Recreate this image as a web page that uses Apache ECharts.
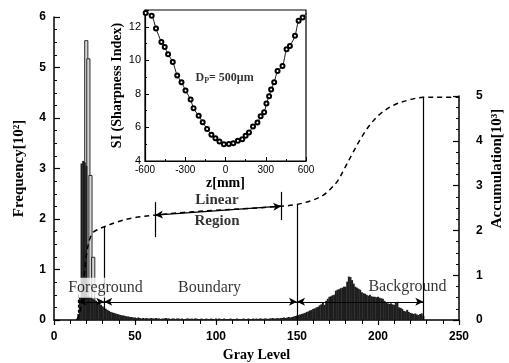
<!DOCTYPE html>
<html>
<head>
<meta charset="utf-8">
<script src="https://cdn.jsdelivr.net/npm/echarts@6/dist/echarts.min.js"></script>
<style>
html, body { margin: 0; padding: 0; background: #fff; }
#chart { width: 509px; height: 363px; }
</style>
</head>
<body>
<div id="chart"></div>
<script>
// histogram, one value per gray level starting at histStart (frequency, 10^2)
var histStart = 14
var histFreq = [
  0, 0.12, 0.45, 3.10, 3.15, 3.12, 3.05, 0.46, 0.45, 0.44,
  0.42, 0.40, 0.38, 0.35, 0.33, 0.30, 0.27, 0.25, 0.22, 0.20,
  0.18, 0.16, 0.15, 0.14, 0.13, 0.12, 0.11, 0.10, 0.09, 0.09,
  0.08, 0.07, 0.07, 0.06, 0.06, 0.05, 0.05, 0.04, 0.05, 0.04,
  0.03, 0.04, 0.03, 0.04, 0.03, 0.03, 0.04, 0.03, 0.03, 0.04,
  0.03, 0.03, 0.02, 0.03, 0.03, 0.04, 0.03, 0.03, 0.02, 0.03,
  0.03, 0.02, 0.03, 0.03, 0.02, 0.03, 0.02, 0.02, 0.03, 0.03,
  0.02, 0.03, 0.02, 0.03, 0.03, 0.02, 0.02, 0.03, 0.02, 0.02,
  0.03, 0.02, 0.02, 0.03, 0.02, 0.02, 0.03, 0.02, 0.03, 0.02,
  0.02, 0.03, 0.02, 0.02, 0.02, 0.03, 0.02, 0.02, 0.02, 0.03,
  0.02, 0.02, 0.02, 0.03, 0.02, 0.02, 0.03, 0.02, 0.02, 0.03,
  0.02, 0.03, 0.02, 0.03, 0.03, 0.02, 0.03, 0.03, 0.02, 0.03,
  0.03, 0.04, 0.03, 0.03, 0.04, 0.03, 0.04, 0.04, 0.05, 0.04,
  0.05, 0.06, 0.05, 0.06, 0.07, 0.08, 0.09, 0.10, 0.11, 0.12,
  0.13, 0.14, 0.16, 0.17, 0.19, 0.20, 0.22, 0.23, 0.25, 0.26,
  0.29, 0.31, 0.34, 0.30, 0.38, 0.42, 0.46, 0.47, 0.49, 0.50,
  0.58, 0.60, 0.61, 0.63, 0.64, 0.66, 0.66, 0.76, 0.86, 0.85,
  0.79, 0.72, 0.66, 0.64, 0.62, 0.60, 0.55, 0.53, 0.52, 0.50,
  0.48, 0.50, 0.47, 0.46, 0.46, 0.45, 0.46, 0.44, 0.43, 0.42,
  0.38, 0.35, 0.33, 0.32, 0.33, 0.31, 0.30, 0.35, 0.36, 0.25,
  0.24, 0.22, 0.18, 0.17, 0.20, 0.16, 0.14, 0.13, 0.12, 0.13,
  0.11, 0.10, 0.12, 0.13, 0.08, 0
]
// tall outlined spike bars
var spikeGray = [19.3, 20.6, 21.9, 23.6]
var spikeFreq = [5.54, 5.18, 2.87, 1.25]

// accumulation curve (10^3)
var accGray = [14, 16, 18, 20, 22, 24, 27, 31, 39, 49, 62, 80, 100, 120, 140, 150, 160, 166, 170, 175, 179, 184, 190, 196, 202, 210, 219, 228, 240, 250]
var accValue = [0, 0.15, 0.75, 1.45, 1.8, 1.95, 2.02, 2.08, 2.19, 2.28, 2.34, 2.40, 2.45, 2.49, 2.54, 2.58, 2.68, 2.78, 2.90, 3.10, 3.36, 3.70, 4.09, 4.40, 4.62, 4.80, 4.91, 4.97, 4.97, 4.97]

// inset: sharpness index vs z
var insetZ = [-595, -550, -518, -478, -453, -428, -393, -360, -328, -298, -260, -238, -200, -170, -137, -105, -75, -45, -12, 25, 58, 92, 125, 150, 175, 205, 238, 262, 288, 305, 325, 340, 363, 388, 425, 455, 480, 518, 545, 575, 603]
var insetSI = [12.82, 12.66, 11.90, 11.10, 10.80, 10.36, 9.90, 9.10, 8.70, 8.20, 7.66, 7.14, 6.70, 6.31, 5.90, 5.56, 5.36, 5.16, 5.00, 5.02, 5.06, 5.20, 5.30, 5.50, 5.70, 6.06, 6.30, 6.66, 6.90, 7.42, 7.86, 8.26, 8.70, 9.36, 9.66, 10.66, 10.86, 11.46, 12.36, 12.56, 12.82]

// region guides
var edgeGray = [31, 150, 228]
var edgeTop = [1.86, 2.28, 4.42]
var fgStart = 15
var arrowFreq = 0.36
var linearGray = [62.3, 140.3]
var linearAcc = [2.34, 2.54]
var linearTickTop = [2.63, 2.86]
var linearTickBottom = [1.85, 2.23]

var labelText = ['Foreground', 'Boundary', 'Background', 'Linear', 'Region']
var labelGray = [31.8, 96, 218.2, 100.6, 100.6]
var labelFreq = [0.64, 0.63, 0.65, 2.38, 1.95]

var serif = '"Liberation Serif", "DejaVu Serif", serif'
var sans = '"Liberation Sans", Arial, sans-serif'

var histData = histFreq.map(function (v, i) { return [histStart + i, v] })
var spikeData = spikeGray.map(function (g, i) { return [g, spikeFreq[i]] })
var accData = accGray.map(function (g, i) { return [g, accValue[i]] })
var insetData = insetZ.map(function (z, i) { return [z, insetSI[i]] })

var guideLines = edgeGray.map(function (g, i) {
  return [{ coord: [g, edgeTop[i]] }, { coord: [g, i === 0 ? 0.2 : 0] }]
})
guideLines.push([{ coord: [fgStart, 0.5], lineStyle: { type: [3, 2] } }, { coord: [fgStart, 0] }])
var arrowEnds = [fgStart, edgeGray[0], edgeGray[1], edgeGray[2]]
for (var k = 0; k < 3; k++) {
  guideLines.push([
    { coord: [arrowEnds[k], arrowFreq], symbol: 'arrow' },
    { coord: [arrowEnds[k + 1], arrowFreq], symbol: 'arrow' }
  ])
}

var linearLines = [
  [{ coord: [linearGray[0], linearAcc[0]], symbol: 'arrow' }, { coord: [linearGray[1], linearAcc[1]], symbol: 'arrow' }],
  [{ coord: [linearGray[0], linearTickTop[0]] }, { coord: [linearGray[0], linearTickBottom[0]] }],
  [{ coord: [linearGray[1], linearTickTop[1]] }, { coord: [linearGray[1], linearTickBottom[1]] }]
]

var labelData = labelText.map(function (t, i) {
  var bold = i >= 3
  return {
    value: [labelGray[i], labelFreq[i]],
    label: {
      formatter: t,
      fontFamily: serif,
      fontSize: bold ? 15 : 16,
      fontWeight: bold ? 'bold' : 'normal',
      backgroundColor: i === 0 ? '#fff' : 'transparent',
      padding: i === 0 ? [2, 2] : 0
    }
  }
})

var axisBlack = { onZero: false, lineStyle: { color: '#000', width: 1.5 } }
var insetLine = { onZero: false, lineStyle: { color: '#000', width: 1.2 } }

var chart = echarts.init(document.getElementById('chart'))
var option = {
  animation: false,
  backgroundColor: '#fff',
  grid: [
    { left: 54, right: 50, top: 17, bottom: 43, outerBoundsMode: 'none' },
    { left: 54, right: 50, top: 96, bottom: 43, outerBoundsMode: 'none' },
    { left: 145, right: 203, top: 10, bottom: 202, outerBoundsMode: 'none', show: true, backgroundColor: '#fff', borderColor: '#000', borderWidth: 1.2 }
  ],
  xAxis: [
    {
      gridIndex: 0, type: 'value', min: 0, max: 250, interval: 50,
      axisLine: axisBlack,
      axisTick: { inside: false, length: 5, lineStyle: { color: '#000', width: 1.2 } },
      minorTick: { show: true, splitNumber: 5, length: 4, lineStyle: { color: '#000', width: 1 } },
      splitLine: { show: false },
      axisLabel: { color: '#000', fontFamily: sans, fontWeight: 'bold', fontSize: 12, margin: 11 },
      name: 'Gray Level', nameLocation: 'middle', nameGap: 25,
      nameTextStyle: { color: '#000', fontFamily: serif, fontWeight: 'bold', fontSize: 14 }
    },
    { gridIndex: 1, type: 'value', min: 0, max: 250, show: false },
    {
      gridIndex: 2, type: 'value', min: -600, max: 600, interval: 300,
      axisLine: insetLine,
      axisTick: { inside: true, length: 4, lineStyle: { color: '#000' } },
      minorTick: { show: true, splitNumber: 2, length: 2, lineStyle: { color: '#000' } },
      splitLine: { show: false },
      axisLabel: { color: '#000', fontFamily: sans, fontSize: 10, margin: 4 },
      name: 'z[mm]', nameLocation: 'middle', nameGap: 14,
      nameTextStyle: { color: '#000', fontFamily: serif, fontWeight: 'bold', fontSize: 14 }
    }
  ],
  yAxis: [
    {
      gridIndex: 0, type: 'value', min: 0, max: 6, interval: 1,
      axisLine: axisBlack,
      axisTick: { inside: true, length: 6, lineStyle: { color: '#000', width: 1.2 } },
      minorTick: { show: true, splitNumber: 4, length: 3, lineStyle: { color: '#000' } },
      splitLine: { show: false },
      axisLabel: { color: '#000', fontFamily: sans, fontWeight: 'bold', fontSize: 12, margin: 8 },
      name: 'Frequency[10²]', nameLocation: 'middle', nameRotate: 90, nameGap: 27,
      nameTextStyle: { color: '#000', fontFamily: serif, fontWeight: 'bold', fontSize: 15 }
    },
    {
      gridIndex: 1, type: 'value', position: 'right', min: 0, max: 5, interval: 1,
      axisLine: axisBlack,
      axisTick: { inside: true, length: 6, lineStyle: { color: '#000', width: 1.2 } },
      minorTick: { show: true, splitNumber: 4, length: 3, lineStyle: { color: '#000' } },
      splitLine: { show: false },
      axisLabel: { color: '#000', fontFamily: sans, fontWeight: 'bold', fontSize: 12, margin: 17 }
    },
    {
      gridIndex: 2, type: 'value', min: 4, max: 13, interval: 2,
      axisLine: insetLine,
      axisTick: { inside: true, length: 4, lineStyle: { color: '#000' } },
      minorTick: { show: true, splitNumber: 2, length: 2, lineStyle: { color: '#000' } },
      splitLine: { show: false },
      axisLabel: {
        color: '#000', fontFamily: sans, fontSize: 11, margin: 4,
        formatter: function (v) { return v > 12 ? '' : v }
      },
      name: 'SI (Sharpness Index)', nameLocation: 'middle', nameRotate: 90, nameGap: 17,
      nameTextStyle: { color: '#000', fontFamily: serif, fontWeight: 'bold', fontSize: 14 }
    },
    {
      // carries only the right-hand title, centred on the full plot height
      gridIndex: 0, type: 'value', position: 'right', min: 0, max: 6,
      axisLine: { show: false }, axisTick: { show: false }, axisLabel: { show: false },
      splitLine: { show: false },
      name: 'Accumulation[10³]', nameLocation: 'middle', nameRotate: 90, nameGap: 31,
      nameTextStyle: { color: '#000', fontFamily: serif, fontWeight: 'bold', fontSize: 15 }
    }
  ],
  series: [
    {
      name: 'spike', type: 'bar', xAxisIndex: 0, yAxisIndex: 0,
      data: spikeData, barWidth: 4, barGap: '-100%', z: 2,
      itemStyle: { color: '#d4d4d4', borderColor: '#000', borderWidth: 0.8 }
    },
    {
      name: 'histogram', type: 'bar', xAxisIndex: 0, yAxisIndex: 0,
      data: histData, barWidth: 2, barGap: '-100%', z: 3,
      itemStyle: { color: '#1e1e1e' },
      markLine: {
        silent: true, symbol: ['none', 'none'], symbolSize: [6, 8],
        label: { show: false },
        lineStyle: { color: '#000', type: 'solid', width: 1.2 },
        data: guideLines
      }
    },
    {
      name: 'accumulation', type: 'line', xAxisIndex: 1, yAxisIndex: 1,
      data: accData, smooth: 0.35, showSymbol: false,
      lineStyle: { color: '#000', width: 1.5, type: [5, 4] },
      markLine: {
        silent: true, symbol: ['none', 'none'], symbolSize: [6, 8],
        label: { show: false },
        lineStyle: { color: '#000', type: 'solid', width: 1.2 },
        data: linearLines
      }
    },
    {
      name: 'SI', type: 'line', xAxisIndex: 2, yAxisIndex: 2,
      data: insetData, smooth: 0.3,
      symbol: 'emptyCircle', symbolSize: 4,
      itemStyle: { color: '#000', borderWidth: 0.8 },
      lineStyle: { color: '#000', width: 0.9 }
    },
    {
      name: 'labels', type: 'scatter', xAxisIndex: 0, yAxisIndex: 0,
      symbolSize: 0, z: 10, data: labelData,
      label: { show: true, position: 'inside', color: '#000' }
    },
    {
      name: 'diameter', type: 'scatter', xAxisIndex: 2, yAxisIndex: 2,
      symbolSize: 0, z: 10, data: [[-7, 8.98]],
      label: {
        show: true, position: 'inside', color: '#000',
        formatter: '{a|D}{b|P}{a|= 500μm}',
        rich: {
          a: { fontFamily: serif, fontWeight: 'bold', fontSize: 12, color: '#000' },
          b: { fontFamily: serif, fontWeight: 'bold', fontSize: 8, color: '#000', padding: [6, 0, 0, 0] }
        }
      }
    }
  ]
}
chart.setOption(option)
</script>
</body>
</html>
